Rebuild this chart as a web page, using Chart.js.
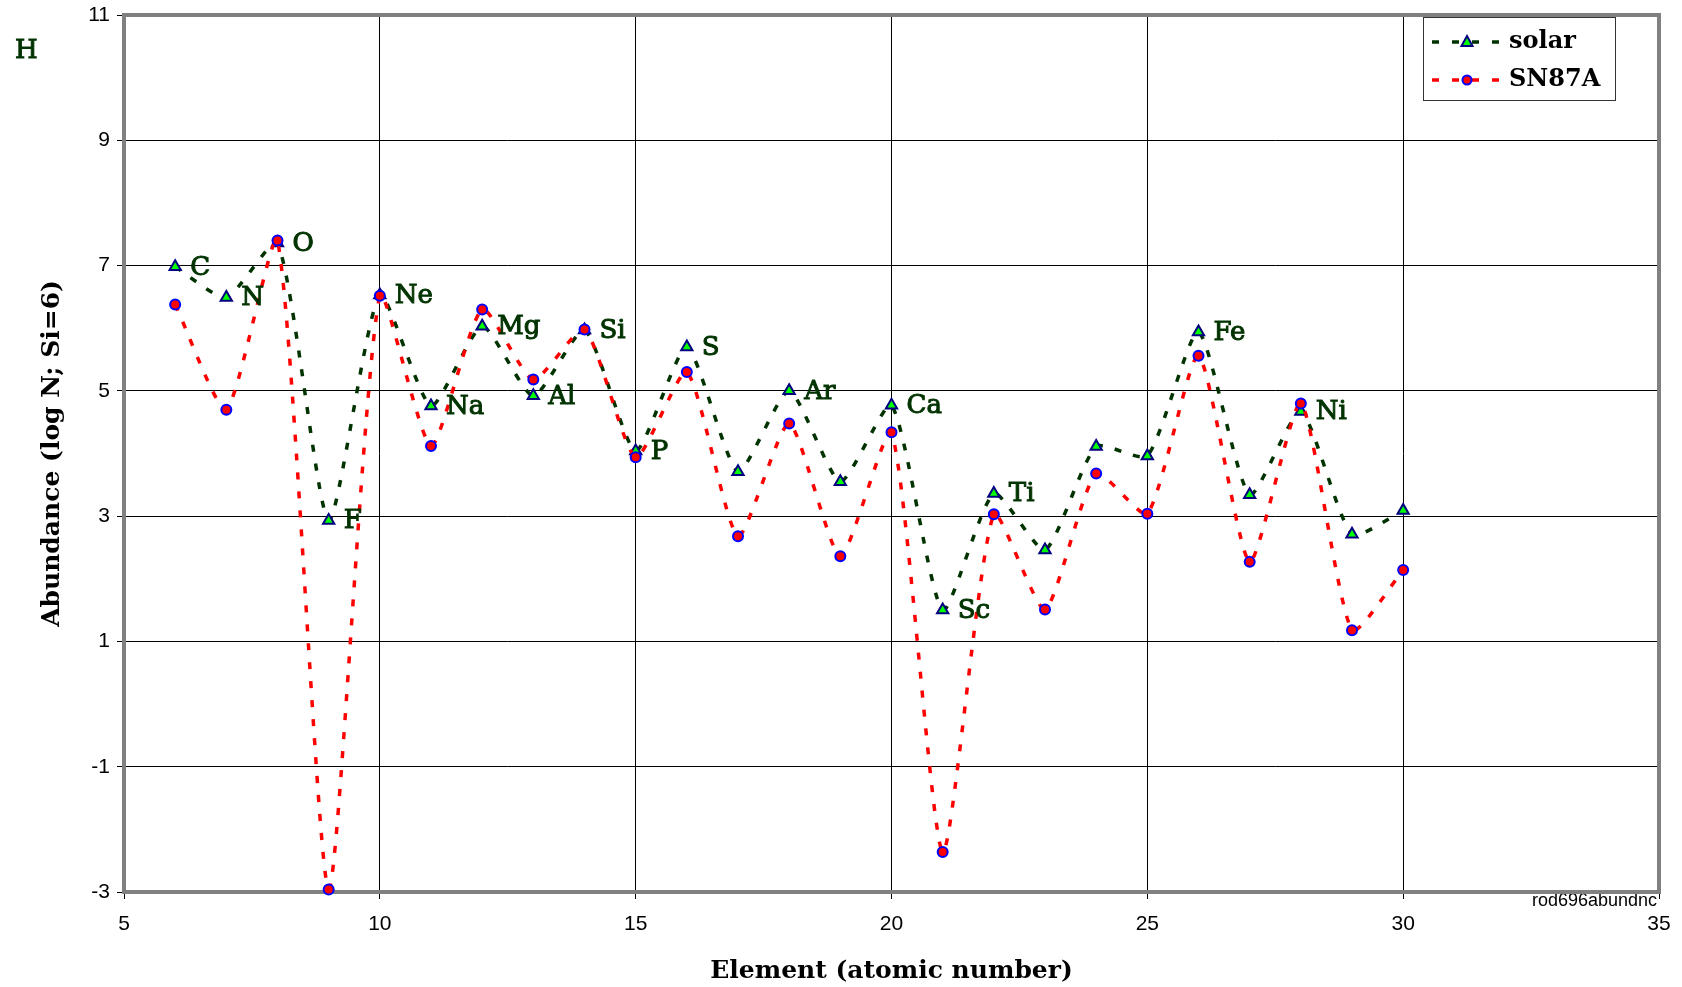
<!DOCTYPE html>
<html>
<head>
<meta charset="utf-8">
<title>Abundances: solar vs SN87A</title>
<script src="https://cdn.jsdelivr.net/npm/chart.js@4"></script>
<style>
    html, body { margin: 0; padding: 0; background: #fff; }
    #wrap { width: 1682px; height: 987px; position: relative; }
</style>
</head>
<body>
<div id="wrap"><canvas id="abundChart"></canvas></div>
<script>
// Atomic numbers and element symbols (C .. Zn)
const atomicNumbers = [6, 7, 8, 9, 10, 11, 12, 13, 14, 15, 16, 17, 18, 19, 20, 21, 22, 23, 24, 25, 26, 27, 28, 29, 30];
const elementSymbols = ['C', 'N', 'O', 'F', 'Ne', 'Na', 'Mg', 'Al', 'Si', 'P', 'S', 'Cl', 'Ar', 'K', 'Ca', 'Sc', 'Ti', 'V', 'Cr', 'Mn', 'Fe', 'Co', 'Ni', 'Cu', 'Zn'];
const labeledElements = ['C', 'N', 'O', 'F', 'Ne', 'Na', 'Mg', 'Al', 'Si', 'P', 'S', 'Ar', 'Ca', 'Sc', 'Ti', 'Fe', 'Ni'];

// log N, Si = 6
const solarValues = [6.98, 6.49, 7.36, 2.93, 6.53, 4.76, 6.03, 4.92, 5.97, 4.04, 5.70, 3.71, 5.00, 3.55, 4.77, 1.50, 3.36, 2.46, 4.11, 3.96, 5.94, 3.34, 4.67, 2.71, 3.09];
const sn87aValues = [6.38, 4.70, 7.40, -2.96, 6.52, 4.12, 6.30, 5.18, 5.98, 3.94, 5.30, 2.68, 4.48, 2.36, 4.34, -2.36, 3.03, 1.51, 3.68, 3.04, 5.56, 2.27, 4.80, 1.18, 2.14];

const xTicks = { min: 5, max: 35, step: 5 };
const yTicks = { min: -3, max: 11, step: 2 };

const labelGreen = '#003300';

document.addEventListener("DOMContentLoaded", () => {
    const toPoints = (vals) => vals.map((v, i) => ({ x: atomicNumbers[i], y: v }));

    // gray frame round the plot area, plus the file tag under it
    const plotFrame = {
        id: 'plotFrame',
        beforeDatasetsDraw(chart) {
            const { ctx, chartArea: a } = chart;
            ctx.save();
            ctx.font = '18px "Liberation Sans", Arial, sans-serif';
            ctx.fillStyle = '#000';
            ctx.textAlign = 'right';
            ctx.textBaseline = 'alphabetic';
            ctx.fillText('rod696abundnc', a.right - 2, a.bottom + 14);
            ctx.strokeStyle = '#808080';
            ctx.lineWidth = 4;
            ctx.strokeRect(a.left, a.top, a.right - a.left, a.bottom - a.top);
            ctx.restore();
        }
    };

    // element symbols next to the solar points
    const elementLabels = {
        id: 'elementLabels',
        afterDatasetsDraw(chart) {
            const ctx = chart.ctx;
            const meta = chart.getDatasetMeta(0);
            ctx.save();
            ctx.font = '26px "DejaVu Serif", serif';
            ctx.fillStyle = labelGreen;
            ctx.strokeStyle = labelGreen;
            ctx.lineWidth = 1;
            ctx.textBaseline = 'middle';
            ctx.textAlign = 'left';
            const put = (txt, x, y) => { ctx.fillText(txt, x, y); ctx.strokeText(txt, x, y); };
            meta.data.forEach((pt, i) => {
                if (!labeledElements.includes(elementSymbols[i])) return;
                put(elementSymbols[i], pt.x + 15, pt.y + 1);
            });
            put('H', 15, 51);
            ctx.restore();
        }
    };

    // boxed legend in the top right corner
    const boxLegend = {
        id: 'boxLegend',
        afterDraw(chart) {
            const ctx = chart.ctx;
            const x0 = 1423, y0 = 17, w = 192, h = 83;
            ctx.save();
            ctx.fillStyle = '#fff';
            ctx.fillRect(x0, y0, w, h);
            ctx.strokeStyle = '#333';
            ctx.lineWidth = 1;
            ctx.strokeRect(x0 + 0.5, y0 + 0.5, w, h);
            chart.data.datasets.forEach((ds, i) => {
                const y = y0 + 25 + i * 38;
                ctx.setLineDash([7, 13]);
                ctx.lineWidth = 3.5;
                ctx.strokeStyle = ds.borderColor;
                ctx.beginPath();
                ctx.moveTo(x0 + 9, y);
                ctx.lineTo(x0 + 78, y);
                ctx.stroke();
                ctx.setLineDash([]);
                ctx.fillStyle = ds.pointBackgroundColor;
                ctx.strokeStyle = ds.pointBorderColor;
                ctx.lineWidth = 2;
                const mx = x0 + 44;
                ctx.beginPath();
                if (ds.pointStyle === 'triangle') {
                    ctx.moveTo(mx, y - 6);
                    ctx.lineTo(mx + 5.5, y + 4);
                    ctx.lineTo(mx - 5.5, y + 4);
                    ctx.closePath();
                } else {
                    ctx.arc(mx, y, 4.5, 0, Math.PI * 2);
                }
                ctx.fill();
                ctx.stroke();
                ctx.fillStyle = '#000';
                ctx.font = 'bold 24px "DejaVu Serif", serif';
                ctx.textBaseline = 'middle';
                ctx.fillText(ds.label, x0 + 86, y);
            });
            ctx.restore();
        }
    };

    const ctx = document.getElementById('abundChart').getContext('2d');
    new Chart(ctx, {
        type: 'line',
        data: {
            datasets: [{
                label: 'solar',
                data: toPoints(solarValues),
                borderColor: '#003300',
                borderWidth: 3.5,
                borderDash: [7, 12],
                tension: 0.2,
                pointStyle: 'triangle',
                pointRadius: 6.5,
                pointBackgroundColor: '#00ff00',
                pointBorderColor: '#000080',
                pointBorderWidth: 2,
                clip: false,
                order: 2
            }, {
                label: 'SN87A',
                data: toPoints(sn87aValues),
                borderColor: '#ff0000',
                borderWidth: 3.5,
                borderDash: [7, 12],
                tension: 0.2,
                pointStyle: 'circle',
                pointRadius: 5,
                pointBackgroundColor: '#ff0000',
                pointBorderColor: '#0000ff',
                pointBorderWidth: 2,
                clip: false,
                order: 1
            }]
        },
        options: {
            responsive: true,
            maintainAspectRatio: false,
            animation: false,
            layout: { padding: { top: 15, right: 23, bottom: 0, left: 0 } },
            plugins: {
                legend: { display: false },
                tooltip: { enabled: false }
            },
            scales: {
                x: {
                    type: 'linear',
                    min: xTicks.min,
                    max: xTicks.max,
                    ticks: {
                        stepSize: xTicks.step,
                        color: '#000',
                        font: { family: '"Liberation Sans", Arial, sans-serif', size: 21 },
                        padding: 13,
                        maxRotation: 0
                    },
                    grid: { color: '#000', lineWidth: 1, tickLength: 7 },
                    border: { display: false },
                    title: {
                        display: true,
                        text: 'Element (atomic number)',
                        color: '#000',
                        font: { family: '"DejaVu Serif", serif', weight: 'bold', size: 25 },
                        padding: { top: 0, bottom: 1 }
                    },
                    afterFit: (s) => { s.height = 95; s.paddingLeft = 0; s.paddingRight = 0; }
                },
                y: {
                    type: 'linear',
                    min: yTicks.min,
                    max: yTicks.max,
                    ticks: {
                        stepSize: yTicks.step,
                        color: '#000',
                        font: { family: '"Liberation Sans", Arial, sans-serif', size: 21 },
                        padding: 7
                    },
                    grid: { color: '#000', lineWidth: 1, tickLength: 7 },
                    border: { display: false },
                    title: {
                        display: true,
                        text: 'Abundance (log N; Si=6)',
                        color: '#000',
                        font: { family: '"DejaVu Serif", serif', weight: 'bold', size: 25 },
                        padding: { top: 37, bottom: 0 }
                    },
                    afterFit: (s) => { s.width = 124; s.paddingTop = 0; s.paddingBottom = 0; }
                }
            }
        },
        plugins: [plotFrame, elementLabels, boxLegend]
    });
});
</script>
</body>
</html>
